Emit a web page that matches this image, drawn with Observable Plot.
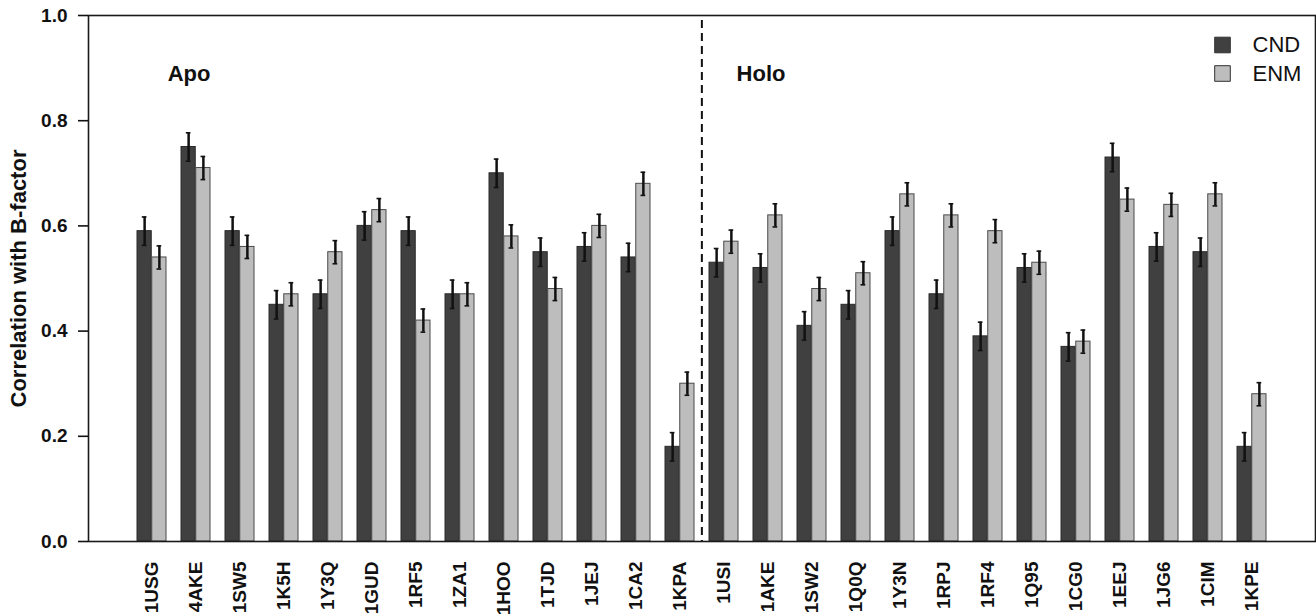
<!DOCTYPE html>
<html>
<head>
<meta charset="utf-8">
<script src="https://cdn.jsdelivr.net/npm/d3@7"></script>
<script src="https://cdn.jsdelivr.net/npm/@observablehq/plot@0.6"></script>
<style>
  body { margin: 0; background: #fff; }
  #chart svg { display: block; }
</style>
</head>
<body>
<div id="chart"></div>
<script>
// Protein structures: 13 apo forms followed by 13 holo forms
const groups = ["1USG","4AKE","1SW5","1K5H","1Y3Q","1GUD","1RF5","1ZA1","1HOO","1TJD","1JEJ","1CA2","1KPA",
                "1USI","1AKE","1SW2","1Q0Q","1Y3N","1RPJ","1RF4","1Q95","1CG0","1EEJ","1JG6","1CIM","1KPE"];
const series = ["CND", "ENM"];

// Correlation of predicted fluctuations with crystallographic B-factors
const cnd = [0.59,0.75,0.59,0.45,0.47,0.60,0.59,0.47,0.70,0.55,0.56,0.54,0.18,
             0.53,0.52,0.41,0.45,0.59,0.47,0.39,0.52,0.37,0.73,0.56,0.55,0.18];
const enm = [0.54,0.71,0.56,0.47,0.55,0.63,0.42,0.47,0.58,0.48,0.60,0.68,0.30,
             0.57,0.62,0.48,0.51,0.66,0.62,0.59,0.53,0.38,0.65,0.64,0.66,0.28];
const cndErr = [0.027,0.027,0.027,0.027,0.027,0.027,0.027,0.027,0.027,0.027,0.027,0.027,0.027,
                0.027,0.027,0.027,0.027,0.027,0.027,0.027,0.027,0.027,0.027,0.027,0.027,0.027];
const enmErr = [0.022,0.022,0.022,0.022,0.022,0.022,0.022,0.022,0.022,0.022,0.022,0.022,0.022,
                0.022,0.022,0.022,0.022,0.022,0.022,0.022,0.022,0.022,0.022,0.022,0.022,0.022];

const yTicks = [0, 0.2, 0.4, 0.6, 0.8, 1.0];
const sections = [{group: "4AKE", label: "Apo"}, {group: "1AKE", label: "Holo"}];
const firstHolo = "1USI";

const rows = groups.flatMap((g, i) => [
  {group: g, series: "CND", value: cnd[i], err: cndErr[i]},
  {group: g, series: "ENM", value: enm[i], err: enmErr[i]}
]);

// Layout
const width = 1316, height = 615;
const marginLeft = 88, marginRight = 1, marginTop = 15, marginBottom = 74;
const padIn = 1 / 3, padOut = 1.027;
const plotW = width - marginLeft - marginRight;
const step = plotW / (groups.length - padIn + 2 * padOut);
const band = step * (1 - padIn);
const half = band / 2;
const cap = 2.6;

const dark = "#404040", light = "#bdbdbd";
const font = "'Liberation Sans', Arial, Helvetica, sans-serif";

const isCND = d => d.series === "CND";
const isENM = d => d.series === "ENM";

const marks = [
  // bars: each group band is split into a CND half and an ENM half
  Plot.barY(rows.filter(isCND), {x: "group", y: "value", fill: "series", stroke: "#2a2a2a", strokeWidth: 1, insetLeft: 0, insetRight: half}),
  Plot.barY(rows.filter(isENM), {x: "group", y: "value", fill: "series", stroke: "#4a4a4a", strokeWidth: 1, insetLeft: half, insetRight: 0}),
  // error bars
  Plot.ruleX(rows.filter(isCND), {x: "group", y1: d => d.value - d.err, y2: d => d.value + d.err, dx: -half / 2, stroke: "#111", strokeWidth: 2.5}),
  Plot.ruleX(rows.filter(isENM), {x: "group", y1: d => d.value - d.err, y2: d => d.value + d.err, dx: half / 2, stroke: "#111", strokeWidth: 2.5}),
  ...[1, -1].map(sign => [
    Plot.tickY(rows.filter(isCND), {x: "group", y: d => d.value + sign * d.err, stroke: "#111", strokeWidth: 1.6,
      insetLeft: half / 2 - cap, insetRight: band - half / 2 - cap}),
    Plot.tickY(rows.filter(isENM), {x: "group", y: d => d.value + sign * d.err, stroke: "#111", strokeWidth: 1.6,
      insetLeft: half + half / 2 - cap, insetRight: half / 2 - cap})
  ]).flat(),
  // divider between apo and holo structures
  Plot.ruleX([firstHolo], {x: d => d, y1: 1, y2: 0, dx: -step / 2, stroke: "#111", strokeWidth: 2, strokeDasharray: "8,5", strokeDashoffset: -5}),
  // section labels
  Plot.text(sections, {x: "group", y: 0.888, text: "label", dx: -7, fontSize: 22, fontWeight: "bold", fill: "#111"}),
  // axes and frame
  Plot.axisY({ticks: yTicks, tickFormat: d3.format(".1f"), tickSize: 10, tickPadding: 11, fontSize: 19, fontWeight: "bold", label: null, strokeWidth: 1.6, fill: "#111"}),
  Plot.axisX({tickSize: 0, tickPadding: 20, tickRotate: -90, fontSize: 19, fontWeight: "bold", label: null, fill: "#111"}),
  Plot.text(["Correlation with B-factor"], {frameAnchor: "left", text: d => d, rotate: -90, dx: -70, textAnchor: "middle", lineAnchor: "middle",
    fontSize: 22, fontWeight: "bold", fill: "#111"}),
  Plot.frame({stroke: "#1a1a1a", strokeWidth: 1.6}),
  // legend in the top-right corner
  ...series.map((s, i) => [
    Plot.dot([s], {frameAnchor: "top-right", dx: -93, dy: 29.5 + i * 28.5, symbol: "square", r: 8.8, fill: d => d, stroke: "#333", strokeWidth: 1}),
    Plot.text([s], {frameAnchor: "top-right", dx: -63, dy: 29.5 + i * 28.5, text: d => d, textAnchor: "start", lineAnchor: "middle", fontSize: 22, fill: "#111"})
  ]).flat()
];

const chart = Plot.plot({
  width, height, marginLeft, marginRight, marginTop, marginBottom,
  style: {fontFamily: font, background: "#fff", color: "#111"},
  x: {type: "band", domain: groups, paddingInner: padIn, paddingOuter: padOut, align: 0.5},
  y: {domain: [0, 1]},
  color: {domain: series, range: [dark, light]},
  marks
});
document.getElementById("chart").appendChild(chart);
</script>
</body>
</html>
